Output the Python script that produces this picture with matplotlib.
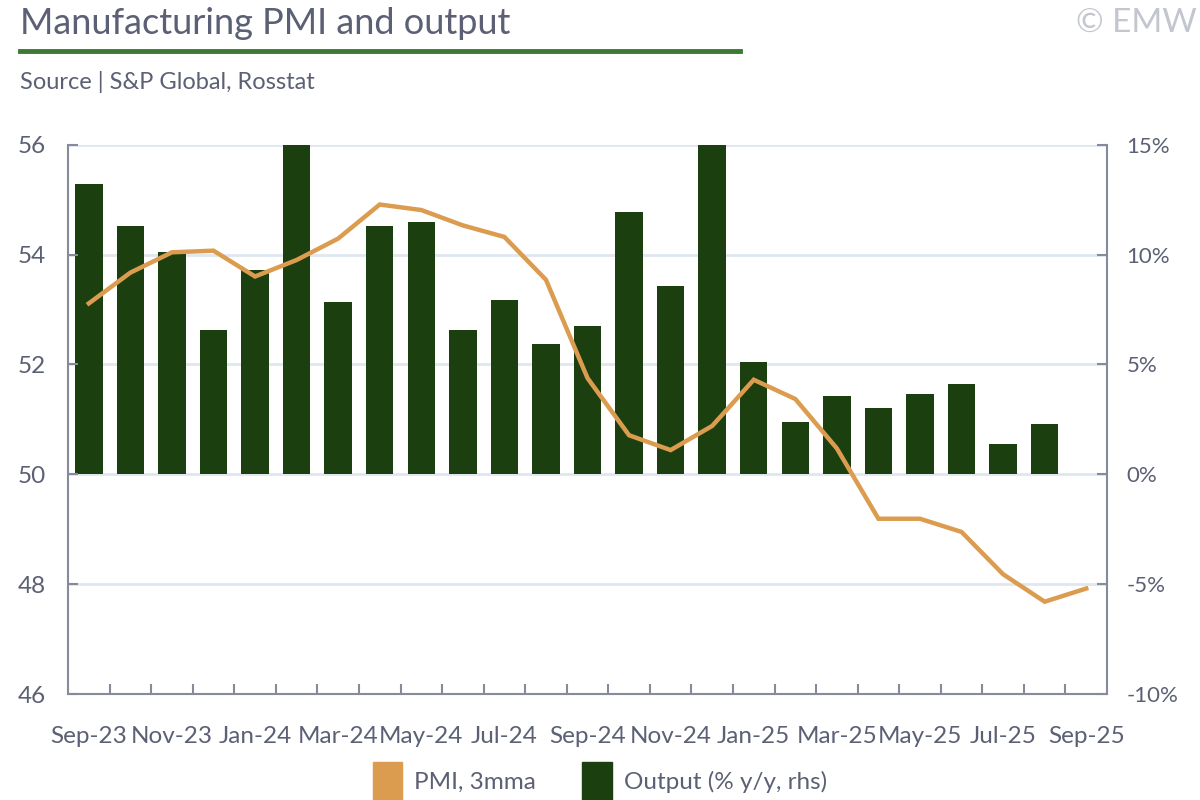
import numpy as np
import matplotlib
matplotlib.use('Agg')
import matplotlib.pyplot as plt
from matplotlib.patches import Patch
from matplotlib.lines import Line2D

plt.rcParams['font.family'] = ['Lato', 'DejaVu Sans']

months = ['Sep-23', 'Oct-23', 'Nov-23', 'Dec-23', 'Jan-24', 'Feb-24', 'Mar-24', 'Apr-24',
          'May-24', 'Jun-24', 'Jul-24', 'Aug-24', 'Sep-24', 'Oct-24', 'Nov-24', 'Dec-24',
          'Jan-25', 'Feb-25', 'Mar-25', 'Apr-25', 'May-25', 'Jun-25', 'Jul-25', 'Aug-25',
          'Sep-25']

# PMI 3-month moving average (lhs)
pmi_3mma = [53.11, 53.67, 54.04, 54.07, 53.60, 53.90, 54.29, 54.91, 54.81, 54.53,
            54.32, 53.54, 51.75, 50.71, 50.44, 50.88, 51.72, 51.37, 50.47, 49.19,
            49.19, 48.95, 48.18, 47.68, 47.92]

# output % y/y (rhs), no Sep-25 figure yet; two months run off the top of the axis
output_yy = [13.2, 11.3, 10.1, 6.56, 9.29, 16.0, 7.84, 11.3, 11.48, 6.56,
             7.93, 5.93, 6.75, 11.93, 8.56, 16.0, 5.11, 2.38, 3.56, 3.03,
             3.65, 4.11, 1.38, 2.29]

TEXT = '#5b6074'
AXIS = '#868b9c'
GRID = '#dfe7f1'
BAR = '#1c3f0f'
LINE = '#dc9c4f'

fig = plt.figure(figsize=(12, 8), dpi=100)
ax = fig.add_axes([0.0567, 0.1325, 0.8658, 0.6867])
ax2 = ax.twinx()

x = np.arange(len(months))

# bars on the right axis, drawn underneath
ax2.bar(x[:len(output_yy)], output_yy, width=0.66, color=BAR, zorder=2)
ax2.set_ylim(-10, 15)
ax2.set_yticks([-10, -5, 0, 5, 10, 15])
ax2.set_yticklabels(['-10%', '-5%', '0%', '5%', '10%', '15%'])
ax2.grid(axis='y', color=GRID, linewidth=2, zorder=0)
ax2.set_axisbelow(True)

# PMI line on the left axis, drawn on top
ax.plot(x, pmi_3mma, color=LINE, linewidth=3.2, zorder=5, solid_joinstyle='miter')
ax.set_ylim(46, 56)
ax.set_yticks([46, 48, 50, 52, 54, 56])
ax.set_zorder(ax2.get_zorder() + 1)
ax.patch.set_visible(False)

ax.set_xlim(-0.5, len(months) - 0.5)
ax.set_xticks(x[::2])
ax.set_xticklabels(months[::2])
ax.set_xticks(np.arange(0.5, len(months) - 1, 1.0), minor=True)
ax.tick_params(axis='x', which='major', length=0, pad=23, labelsize=17.5, labelcolor=TEXT)
ax.tick_params(axis='x', which='minor', direction='in', length=7, width=1.5, color=AXIS)
ax.tick_params(axis='y', direction='in', length=7, width=1.5, color=AXIS,
               pad=16, labelsize=17.5, labelcolor=TEXT)
ax2.tick_params(axis='y', direction='in', length=7, width=1.5, color=AXIS,
                pad=14, labelsize=16, labelcolor=TEXT)

for a in (ax, ax2):
    for s in a.spines.values():
        s.set_color(AXIS)
        s.set_linewidth(1.5)
    a.spines['top'].set_visible(False)
ax2.spines['bottom'].set_visible(False)
ax2.spines['left'].set_visible(False)
ax.spines['right'].set_visible(False)

# header
fig.text(0.0167, 0.97, 'Manufacturing PMI and output', fontsize=26, color=TEXT,
         ha='left', va='center')
fig.add_artist(Line2D([0.0167, 0.617], [0.936, 0.936], color='#3b7a33', linewidth=3.5))
fig.text(0.0167, 0.898, 'Source | S&P Global, Rosstat', fontsize=17, color=TEXT,
         ha='left', va='center')
fig.text(0.997, 0.972, '\u00a9 EMW', fontsize=24, color='#c3c6ce', ha='right', va='center')

handles = [Patch(color=LINE, label='PMI, 3mma'),
           Patch(color=BAR, label='Output (% y/y, rhs)')]
fig.legend(handles=handles, loc='center', bbox_to_anchor=(0.5, 0.024), ncol=2,
           frameon=False, fontsize=17.5, labelcolor=TEXT, handlelength=1.2,
           handleheight=2.0, handletextpad=0.5, columnspacing=1.9)

fig.savefig('out.png', dpi=100)
